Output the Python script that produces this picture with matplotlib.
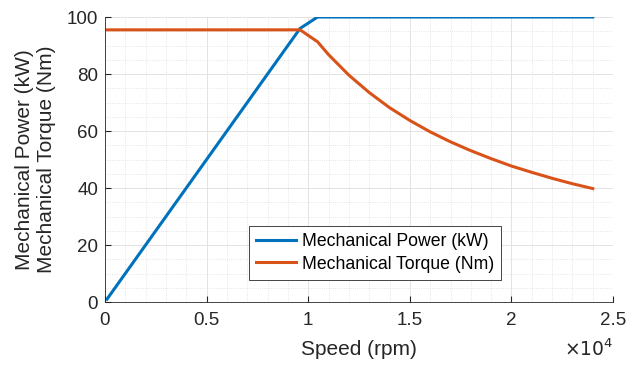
import matplotlib.pyplot as plt
from matplotlib.ticker import MultipleLocator

plt.rcParams['font.family'] = ['Liberation Sans', 'DejaVu Sans']

# speed samples (rpm)
speed = [100, 9600, 10460, 11000, 12000, 13000, 14000, 15000, 16000, 17000,
         18000, 19000, 20000, 21000, 22000, 23000, 24000]
power = [1.0, 96.0, 100, 100, 100, 100, 100, 100, 100, 100,
         100, 100, 100, 100, 100, 100, 100]
torque = [95.5, 95.5, 91.3, 86.8, 79.6, 73.5, 68.2, 63.7, 59.7, 56.2,
          53.1, 50.3, 47.7, 45.5, 43.4, 41.5, 39.8]
xticks = [0, 5000, 10000, 15000, 20000, 25000]
xticklabels = ['0', '0.5', '1', '1.5', '2', '2.5']


def main():
	fig = plt.figure(figsize=(6.4, 3.74), dpi=100, facecolor="white")
	ax = fig.add_axes([0.164, 0.1925, 0.794, 0.762])
	ax.plot(speed, power, color="#0072BD", lw=2.2, label="Mechanical Power (kW)")
	ax.plot(speed, torque, color="#D95319", lw=2.2, label="Mechanical Torque (Nm)")

	ax.set_xlim(0, 25000)
	ax.set_ylim(0, 100)
	ax.set_xticks(xticks)
	ax.set_xticklabels(xticklabels)
	ax.xaxis.set_minor_locator(MultipleLocator(1000))
	ax.yaxis.set_minor_locator(MultipleLocator(5))
	ax.tick_params(which="both", direction="in", colors="#262626", labelsize=13.5)
	ax.tick_params(axis="x", which="major", pad=7)
	ax.tick_params(axis="y", which="major", pad=5)
	ax.tick_params(which="major", length=4)
	ax.tick_params(which="minor", length=0)
	for s in ["top", "right"]:
		ax.spines[s].set_visible(False)
	for s in ["left", "bottom"]:
		ax.spines[s].set_color("#262626")
		ax.spines[s].set_linewidth(0.6)

	ax.grid(which="major", color="#dedede", lw=0.6)
	ax.grid(which="minor", color="#dedede", lw=0.6, ls=":")
	ax.set_axisbelow(True)

	ax.set_xlabel("Speed (rpm)", fontsize=15, color="#262626", labelpad=8)
	ax.set_ylabel("Mechanical Power (kW)\nMechanical Torque (Nm)", fontsize=15,
		color="#262626", labelpad=8, linespacing=1.2)
	ax.text(1.0, -0.165, r"$\times10^4$", transform=ax.transAxes, ha="right",
		va="center", fontsize=13.5, color="#262626")

	leg = ax.legend(loc="center", bbox_to_anchor=(0.531, 0.172), fontsize=12.7,
		fancybox=False, edgecolor="#262626", framealpha=1, handlelength=2.3,
		borderpad=0.4, labelspacing=0.3, handletextpad=0.3, borderaxespad=0)
	leg.get_frame().set_linewidth(0.6)

	plt.savefig("out.png", dpi=100)


if __name__ == "__main__":
	main()
